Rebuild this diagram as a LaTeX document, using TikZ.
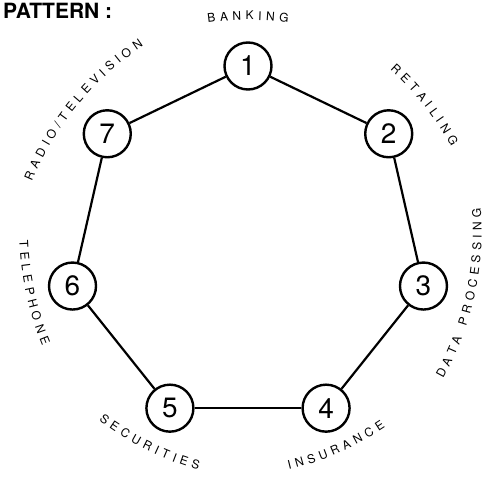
\documentclass[tikz,border=0pt,12pt]{standalone}
\usepackage{fontspec}
\setmainfont{TeX Gyre Heros}
\usetikzlibrary{calc, decorations.text}

\begin{document}
\begin{tikzpicture}[
    x=1pt, y=1pt,
    every node/.style={font=\fontsize{12}{14}\selectfont},
    hub/.style={draw, circle, line width=2.4pt, minimum size=47pt,
                inner sep=0pt, font=\fontsize{28}{30}\selectfont},
    link/.style={line width=2.2pt},
    arclabel/.style={decorate, decoration={text effects along path,
                     text={#1}, text align=center, text effects/.cd,
                     characters={text along path},
                     character widths={inner xsep=2.2pt}}},
  ]
    \useasboundingbox (0,0) rectangle (496,480);
    \coordinate (c) at (248,234);

    % title
    \node[font=\fontsize{21}{23}\selectfont\bfseries, anchor=base west]
         (title) at (-1,461) {PATTERN :};

    % ring of industries
    \foreach \i in {1,...,7}{
      \node[hub] (n\i) at ($(c)+({90-(\i-1)*360/7}:180)$) {\i};
    }
    \foreach \a/\b in {1/2,2/3,3/4,4/5,5/6,6/7,7/1}{
      \draw[link] (n\a) -- (n\b);
    }

    % labels, on flat arcs (radius 300) just outside the ring
    \path[arclabel={BANKING}] ([shift={(90:-74)}]c) ++(125:300)
         arc[start angle=125, end angle=55, radius=300];
    \path[arclabel={RETAILING}] ([shift={(38.6:-75)}]c) ++(73.6:300)
         arc[start angle=73.6, end angle=3.6, radius=300];
    \path[arclabel={RADIO/TELEVISION}] ([shift={(140.5:-79)}]c) ++(175.5:300)
         arc[start angle=175.5, end angle=105.5, radius=300];
    \path[arclabel={DATA PROCESSING}] ([shift={(-12.5:-68)}]c) ++(-47.5:300)
         arc[start angle=-47.5, end angle=22.5, radius=300];
    \path[arclabel={TELEPHONE}] ([shift={(192.3:-73)}]c) ++(157.3:300)
         arc[start angle=157.3, end angle=227.3, radius=300];
    \path[arclabel={SECURITIES}] ([shift={(243.5:-72)}]c) ++(208.5:300)
         arc[start angle=208.5, end angle=278.5, radius=300];
    \path[arclabel={INSURANCE}] ([shift={(-66.3:-74)}]c) ++(-101.3:300)
         arc[start angle=-101.3, end angle=-31.3, radius=300];
  \end{tikzpicture}
\end{document}
